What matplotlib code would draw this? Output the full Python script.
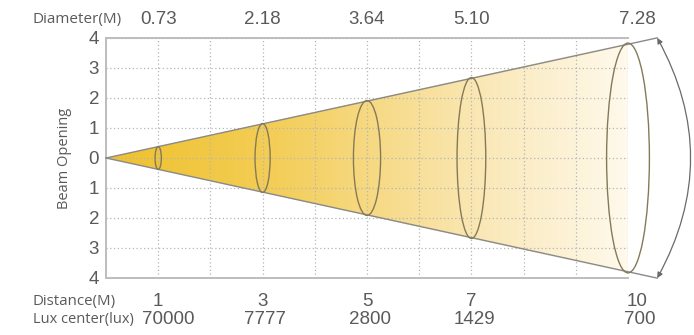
import numpy as np
import matplotlib
matplotlib.use('Agg')
import matplotlib.pyplot as plt
import matplotlib.transforms as mtransforms
from matplotlib.patches import Ellipse, Polygon, FancyArrowPatch
from matplotlib.colors import LinearSegmentedColormap

# ---- data ----
distance = [1, 3, 5, 7, 10]
diameter = ["0.73", "2.18", "3.64", "5.10", "7.28"]
lux_center = ["70000", "7777", "2800", "1429", "700"]
y_ticks = [-4, -3, -2, -1, 0, 1, 2, 3, 4]
y_tick_labels = ["4", "3", "2", "1", "0", "1", "2", "3", "4"]

# ---- style ----
HALF_SLOPE = 0.383          # drawn half-opening of the cone per metre
ELLIPSE_W = [0.12, 0.29, 0.52, 0.55, 0.82]
TXT = '#5a5a5a'
NUM_FONT = ['Liberation Sans', 'DejaVu Sans']
LBL_FONT = ['Open Sans', 'DejaVu Sans']

fig = plt.figure(figsize=(6.94, 3.35), dpi=100)
ax = fig.add_axes([106 / 694, 1 - 278 / 335, 522 / 694, 240 / 335])
ax.set_xlim(0, 10)
ax.set_ylim(-4, 4)

# gradient fill of the cone
cmap = LinearSegmentedColormap.from_list(
    'beam', [(0.0, '#EFC12C'), (0.3, '#F3CD55'), (0.5, '#F7DA86'),
             (0.7, '#FAE8B8'), (1.0, '#FFFCF4')])
grad = np.linspace(0, 1, 400).reshape(1, -1)
xmax = distance[-1]
h_end = HALF_SLOPE * xmax
w_end = ELLIPSE_W[-1]
im = ax.imshow(grad, cmap=cmap, extent=[0, xmax + w_end / 2, -4, 4],
               aspect='auto', interpolation='bilinear', zorder=0)
t = np.linspace(np.pi / 2, -np.pi / 2, 60)
arc_x = xmax + (w_end / 2) * np.cos(t)
arc_y = h_end * np.sin(t)
verts = [(0, 0)] + list(zip(arc_x, arc_y))
clip = Polygon(verts, closed=True, transform=ax.transData, facecolor='none', edgecolor='none')
ax.add_patch(clip)
im.set_clip_path(clip)

# grid
ax.set_xticks(range(1, 11))
ax.set_yticks(y_ticks)
ax.grid(True, color='#b5b5b5', linestyle=(0, (1, 2)), linewidth=0.9)
ax.tick_params(axis='x', length=0, labelbottom=False)
ax.tick_params(axis='y', length=0, pad=5, labelsize=13.5, labelcolor=TXT)
ax.set_yticklabels(y_tick_labels, fontfamily=NUM_FONT)
for s in ['top', 'bottom', 'left']:
    ax.spines[s].set_color('#bdbdbd')
    ax.spines[s].set_linewidth(1.4)
ax.spines['right'].set_visible(False)

# cone edge lines (extended to the angle arc)
x_ext = 10.56
ax.plot([0, x_ext], [0, HALF_SLOPE * x_ext * 0.99], color='#8a8a8a', lw=1.0, clip_on=False, zorder=3)
ax.plot([0, x_ext], [0, -HALF_SLOPE * x_ext * 0.99], color='#8a8a8a', lw=1.0, clip_on=False, zorder=3)

# ellipses at each distance
for d, w in zip(distance, ELLIPSE_W):
    e = Ellipse((d, 0), w, 2 * HALF_SLOPE * d, facecolor='none',
                edgecolor='#857a58', lw=1.0, zorder=3, clip_on=False)
    ax.add_patch(e)

# angle arc with arrows
yt = HALF_SLOPE * x_ext * 0.99
arr = FancyArrowPatch((x_ext, yt), (x_ext, -yt), connectionstyle='arc3,rad=-0.275',
                      arrowstyle='<|-|>', mutation_scale=8, color='#6a6a6a', lw=0.9,
                      clip_on=False, zorder=3, shrinkA=0, shrinkB=0)
ax.add_patch(arr)

ax.set_ylabel('Beam Opening', fontsize=10.5, color=TXT, fontfamily=LBL_FONT, labelpad=12)

# header / footer rows
tr = mtransforms.blended_transform_factory(ax.transData, fig.transFigure)
xpos = [d if d < 10 else d + 0.18 for d in distance]
fig.text(33 / 694, 1 - 20 / 335, 'Diameter(M)', fontsize=11, color=TXT,
         fontfamily=LBL_FONT, va='center', ha='left')
fig.text(33 / 694, 1 - 301 / 335, 'Distance(M)', fontsize=10.8, color=TXT,
         fontfamily=LBL_FONT, va='center', ha='left')
fig.text(33 / 694, 1 - 320 / 335, 'Lux center(lux)', fontsize=10.5, color=TXT,
         fontfamily=LBL_FONT, va='center', ha='left')
for x, dia, d, lx in zip(xpos, diameter, distance, lux_center):
    ax.text(x, 1 - 20 / 335, dia, transform=tr, ha='center', va='center',
            fontsize=13.5, color=TXT, fontfamily=NUM_FONT)
    ax.text(x, 1 - 301 / 335, str(d), transform=tr, ha='center', va='center',
            fontsize=13.5, color=TXT, fontfamily=NUM_FONT)
    ax.text(x + (0.2 if d == 1 else 0.05), 1 - 320 / 335, lx, transform=tr, ha='center',
            va='center', fontsize=13.5, color=TXT, fontfamily=NUM_FONT)

fig.savefig('out.png', dpi=100)
